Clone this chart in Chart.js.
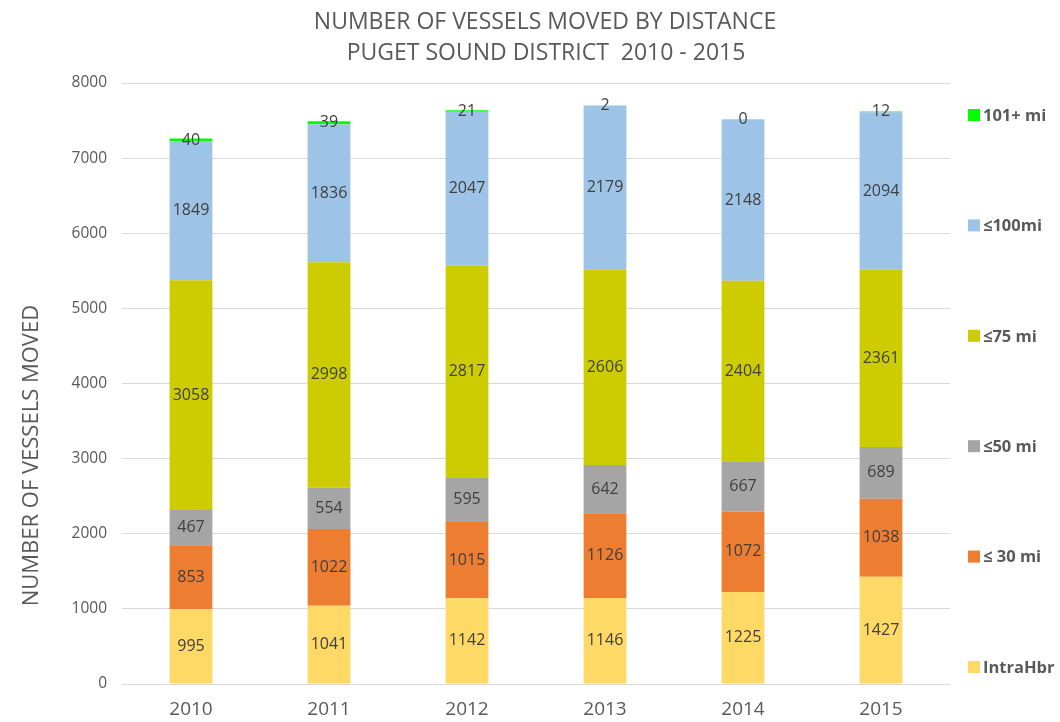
<!DOCTYPE html>
<html>
<head>
<meta charset="utf-8">
<script src="https://cdn.jsdelivr.net/npm/chart.js@4"></script>
<style>
  html, body { margin: 0; padding: 0; background: #fff; }
  #wrap { width: 1060px; height: 722px; }
</style>
</head>
<body>
<div id="wrap"><canvas id="chart" width="1060" height="722"></canvas></div>
<script>
// data
const years = ["2010", "2011", "2012", "2013", "2014", "2015"];
const intraHbr = [995, 1041, 1142, 1146, 1225, 1427];
const mi30 = [853, 1022, 1015, 1126, 1072, 1038];
const mi50 = [467, 554, 595, 642, 667, 689];
const mi75 = [3058, 2998, 2817, 2606, 2404, 2361];
const mi100 = [1849, 1836, 2047, 2179, 2148, 2094];
const mi101 = [40, 39, 21, 2, 0, 12];
const yTicks = [0, 1000, 2000, 3000, 4000, 5000, 6000, 7000, 8000];

const titleLines = ["NUMBER OF VESSELS MOVED BY DISTANCE", "PUGET SOUND DISTRICT  2010 - 2015"];
const yTitle = "NUMBER OF VESSELS MOVED";

const FONT = "'Open Sans', 'Segoe UI', sans-serif";

const series = [
    { label: "IntraHbr", data: intraHbr, color: "#FFD966" },
    { label: "\u2264 30 mi", data: mi30, color: "#ED7D31" },
    { label: "\u226450 mi", data: mi50, color: "#A5A5A5" },
    { label: "\u226475 mi", data: mi75, color: "#CCCC00" },
    { label: "\u2264100mi", data: mi100, color: "#9DC3E6" },
    { label: "101+ mi", data: mi101, color: "#00FF00" }
];

// numbers in the middle of each segment
const segLabels = {
    id: "segLabels",
    afterDatasetsDraw(chart) {
        const c = chart.ctx;
        c.save();
        c.font = "16px " + FONT;
        c.fillStyle = "#404040";
        c.textAlign = "center";
        c.textBaseline = "middle";
        chart.data.datasets.forEach((ds, i) => {
            chart.getDatasetMeta(i).data.forEach((bar, j) => {
                const mid = (bar.y + bar.base) / 2;
                c.fillText(String(ds.data[j]), bar.x, mid);
            });
        });
        c.restore();
    }
};

// title, rotated axis title and the spread-out legend
const decor = {
    id: "decor",
    afterDraw(chart) {
        const c = chart.ctx;
        const a = chart.chartArea;
        c.save();
        c.fillStyle = "#595959";
        c.textAlign = "center";
        c.textBaseline = "middle";
        c.font = "23px " + FONT;
        c.fillText(titleLines[0], 545, 22);
        c.fillText(titleLines[1], 546, 53);

        c.save();
        c.translate(32, a.top + (a.bottom - a.top) * 0.62);
        c.rotate(-Math.PI / 2);
        c.font = "22px " + FONT;
        c.fillText(yTitle, 0, 0);
        c.restore();

        c.font = "bold 16.5px " + FONT;
        c.textAlign = "left";
        const n = series.length;
        for (let k = 0; k < n; k++) {
            const s = series[n - 1 - k];
            const y = a.top + 32 + k * 110.4;
            c.fillStyle = s.color;
            c.fillRect(968, y - 6, 12, 12);
            c.fillStyle = "#595959";
            c.fillText(s.label, 983, y + 1);
        }
        c.restore();
    }
};

const ctx = document.getElementById("chart").getContext("2d");
const chart = new Chart(ctx, {
    type: "bar",
    data: {
        labels: years,
        datasets: series.map(s => ({
            label: s.label,
            data: s.data,
            backgroundColor: s.color,
            borderWidth: 0,
            barPercentage: 0.31,
            categoryPercentage: 1
        }))
    },
    options: {
        responsive: false,
        animation: false,
        layout: { padding: { top: 83, right: 110, left: 0, bottom: 0 } },
        plugins: {
            legend: { display: false },
            title: { display: false },
            tooltip: { enabled: false }
        },
        scales: {
            x: {
                stacked: true,
                grid: { display: false, drawTicks: false },
                border: { display: false },
                ticks: { color: "#595959", font: { family: FONT, size: 19 }, padding: 14 },
                afterFit: s => { s.height = 38; }
            },
            y: {
                stacked: true,
                min: 0,
                max: 8000,
                afterBuildTicks: s => { s.ticks = yTicks.map(v => ({ value: v })); },
                grid: { color: "#D9D9D9", drawTicks: false },
                border: { display: false },
                ticks: {
                    color: "#595959",
                    font: { family: FONT, size: 15.5 },
                    padding: 15,
                    callback: v => String(v)
                },
                afterFit: s => { s.width = 122; }
            }
        }
    },
    plugins: [segLabels, decor]
});
</script>
</body>
</html>
